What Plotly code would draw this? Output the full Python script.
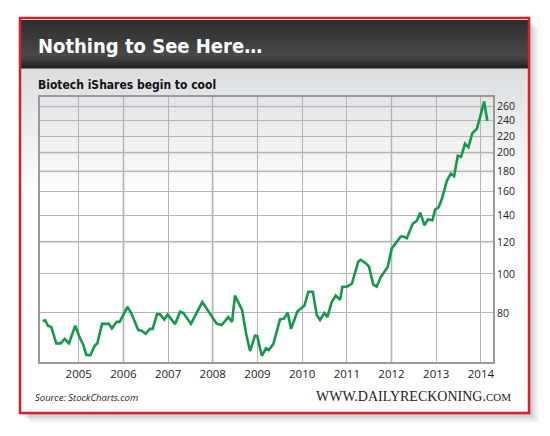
import plotly.graph_objects as go
import math

# ---------------- data ----------------
dates = [
    "2004-03-12", "2004-04-02", "2004-04-24", "2004-05-21", "2004-07-01", "2004-08-06",
    "2004-09-08", "2004-10-13", "2004-12-03", "2005-01-09", "2005-02-05", "2005-03-04",
    "2005-04-06", "2005-05-11", "2005-06-02", "2005-07-10", "2005-08-20", "2005-09-03",
    "2005-09-29", "2005-11-06", "2005-12-01", "2006-02-03", "2006-03-09", "2006-05-02",
    "2006-05-30", "2006-07-01", "2006-08-06", "2006-08-28", "2006-10-02", "2006-10-29",
    "2006-12-01", "2006-12-29", "2007-02-27", "2007-04-09", "2007-05-06", "2007-07-07",
    "2007-10-08", "2007-12-10", "2008-02-02", "2008-03-14", "2008-05-07", "2008-06-07",
    "2008-07-01", "2008-08-28", "2008-09-29", "2008-11-01", "2008-12-11", "2008-12-30",
    "2009-02-05", "2009-03-12", "2009-04-03", "2009-05-11", "2009-07-04", "2009-08-06",
    "2009-09-05", "2009-10-02", "2009-11-23", "2010-01-19", "2010-02-21", "2010-03-29",
    "2010-04-30", "2010-05-27", "2010-07-01", "2010-07-26", "2010-08-31", "2010-10-03",
    "2010-11-07", "2010-11-26", "2011-01-01", "2011-02-11", "2011-04-05", "2011-04-24",
    "2011-06-04", "2011-07-01", "2011-08-05", "2011-09-02", "2011-10-07", "2011-11-09",
    "2011-12-01", "2012-01-03", "2012-02-06", "2012-03-17", "2012-04-08", "2012-05-05",
    "2012-06-24", "2012-07-27", "2012-08-23", "2012-09-27", "2012-10-25", "2012-12-01",
    "2012-12-23", "2013-01-19", "2013-02-16", "2013-03-28", "2013-04-30", "2013-05-27",
    "2013-06-26", "2013-07-23", "2013-08-24", "2013-09-21", "2013-10-23", "2013-11-28",
    "2013-12-25", "2014-01-27", "2014-02-23",
]
prices = [
    76.4, 76.7, 74.3, 73.8, 67.2, 67.2,
    68.9, 67.2, 74.3, 69.4, 66.9, 62.9,
    62.8, 66.3, 67.2, 75.1, 75.1, 75.3,
    73.2, 76.0, 76.0, 82.8, 79.5, 72.5,
    72.2, 71.0, 73.0, 73.0, 79.3, 79.3,
    77.0, 79.3, 75.0, 80.5, 79.9, 75.2,
    85.1, 79.9, 75.2, 74.6, 78.1, 76.0,
    88.3, 81.4, 71.3, 64.3, 70.2, 70.0,
    62.6, 65.3, 64.7, 67.0, 77.1, 77.4,
    80.1, 73.0, 80.6, 83.3, 90.3, 90.3,
    79.1, 76.8, 79.9, 78.1, 85.2, 88.3,
    86.2, 92.9, 92.9, 94.5, 107.3, 108.3,
    106.3, 104.3, 94.0, 92.9, 98.4, 101.6,
    104.0, 115.5, 119.5, 123.8, 123.8, 122.6,
    133.3, 135.5, 141.9, 131.9, 136.5, 135.9,
    144.5, 146.1, 153.4, 170.0, 177.4, 174.8,
    196.5, 195.2, 210.4, 206.4, 223.7, 229.0,
    244.7, 268.0, 239.7,
]
y_ticks = [80, 100, 120, 140, 160, 180, 200, 220, 240, 260]
x_ticks = ["2005", "2006", "2007", "2008", "2009", "2010", "2011", "2012", "2013", "2014"]
light_x_grid = ["2006", "2008", "2012"]
light_y_grid = [120, 180, 200, 260]

title = "Nothing to See Here…"
subtitle = "Biotech iShares begin to cool"
source = "Source: StockCharts.com"

# ---------------- geometry helpers ----------------
W, H = 550, 436
L, R, T, B = 40, 493, 97, 362


def px(x):
    return (x - L) / (R - L)


def py(y):
    return (B - y) / (B - T)


def hexmix(c1, c2, t):
    a = [int(c1[i:i + 2], 16) for i in (1, 3, 5)]
    b = [int(c2[i:i + 2], 16) for i in (1, 3, 5)]
    return "#" + "".join("%02x" % round(a[k] + (b[k] - a[k]) * t) for k in range(3))


shapes = []


def rect(x0, y0, x1, y1, fill="rgba(0,0,0,0)", line_color=None, lw=0, layer="below"):
    shapes.append(dict(
        type="rect", xref="paper", yref="paper",
        x0=px(x0), x1=px(x1), y0=py(y1), y1=py(y0),
        fillcolor=fill, layer=layer,
        line=dict(color=line_color or "rgba(0,0,0,0)", width=lw),
    ))


# drop shadow
for k, a in [(10, 0.03), (8, 0.04), (6, 0.05), (4, 0.06), (2, 0.07)]:
    rect(20 + k, 18 + k, 529 + k, 413 + k, fill="rgba(0,0,0,%.2f)" % a)
# card
rect(20, 18, 529, 413, fill="#ffffff")
# light gradient below header
n = 30
for i in range(n):
    y0 = 68 + i * (130 / n)
    rect(21, y0, 528, y0 + 130 / n + 0.6, fill=hexmix("#dcdddf", "#ffffff", i / (n - 1)))
# dark header gradient
stops = [(20, "#2e2e2e"), (40, "#3c3c3d"), (56, "#49494a"), (68, "#1f1f1f")]
for j in range(len(stops) - 1):
    ya, ca = stops[j]
    yb, cb = stops[j + 1]
    m = 8
    for i in range(m):
        y0 = ya + (yb - ya) * i / m
        y1 = ya + (yb - ya) * (i + 1) / m + 0.6
        rect(21, y0, 528, y1, fill=hexmix(ca, cb, (i + 0.5) / m))
# red border
rect(20, 18, 529, 413, line_color="#d2232a", lw=2.5)

# lighter, wider grid lines (drawn between grid and trace)
for yr in light_x_grid:
    shapes.append(dict(type="line", xref="x", yref="paper", x0=yr + "-01-01", x1=yr + "-01-01",
                       y0=0, y1=1, layer="between", line=dict(color="#dcdcdc", width=2.5)))
for v in light_y_grid:
    shapes.append(dict(type="line", xref="paper", yref="y", x0=0, x1=1, y0=v, y1=v,
                       layer="between", line=dict(color="#dcdcdc", width=2.5)))

fig = go.Figure()
fig.add_trace(go.Scatter(
    x=dates, y=prices, mode="lines",
    line=dict(color="#16984a", width=2.6),
    hoverinfo="skip", showlegend=False,
))

cond = "DejaVu Sans Condensed, Liberation Sans Narrow, Arial Narrow, sans-serif"
annotations = [
    dict(text="<b>" + title + "</b>", x=px(36), y=py(46), xanchor="left", yanchor="middle",
         font=dict(family=cond, size=20, color="#ffffff")),
    dict(text="<b>" + subtitle + "</b>", x=px(36), y=py(85), xanchor="left", yanchor="middle",
         font=dict(family=cond, size=12, color="#111111")),
    dict(text="<i>" + source + "</i>", x=px(33), y=py(397), xanchor="left", yanchor="middle",
         font=dict(family="Open Sans, sans-serif", size=9.5, color="#222222")),
    dict(text="WWW.DAILYRECKONING.<span style='font-size:11px'>COM</span>", x=px(513), y=py(396),
         xanchor="right", yanchor="middle",
         font=dict(family="Liberation Serif, DejaVu Serif, serif", size=14, color="#222222")),
]
for a in annotations:
    a.update(xref="paper", yref="paper", showarrow=False)

fig.update_layout(
    width=W, height=H,
    margin=dict(l=L, r=W - R, t=T, b=H - B, pad=0),
    paper_bgcolor="#ffffff", plot_bgcolor="rgba(0,0,0,0)",
    shapes=shapes, annotations=annotations,
    xaxis=dict(
        type="date", range=["2004-02-19", "2014-04-10"],
        tickvals=[y + "-01-01" for y in x_ticks], ticktext=x_ticks,
        showgrid=True, gridcolor="#b4b4b4", gridwidth=1,
        showline=True, linecolor="#9a9a9a", linewidth=2, mirror=True,
        ticks="", tickfont=dict(family="Open Sans, sans-serif", size=11.5, color="#222222"),
        zeroline=False, fixedrange=True, automargin=False,
    ),
    yaxis=dict(
        type="log", side="right",
        range=[math.log10(60.4), math.log10(275)],
        tickvals=y_ticks, ticktext=[str(v) for v in y_ticks],
        showgrid=True, gridcolor="#b4b4b4", gridwidth=1,
        showline=True, linecolor="#9a9a9a", linewidth=2, mirror=True,
        ticks="", tickfont=dict(family="Open Sans, sans-serif", size=10.5, color="#222222"),
        zeroline=False, fixedrange=True, automargin=False,
    ),
)

fig.write_html("out.html", config={"displayModeBar": False},
               post_script="document.body.style.margin='0';document.body.style.overflow='hidden';")
